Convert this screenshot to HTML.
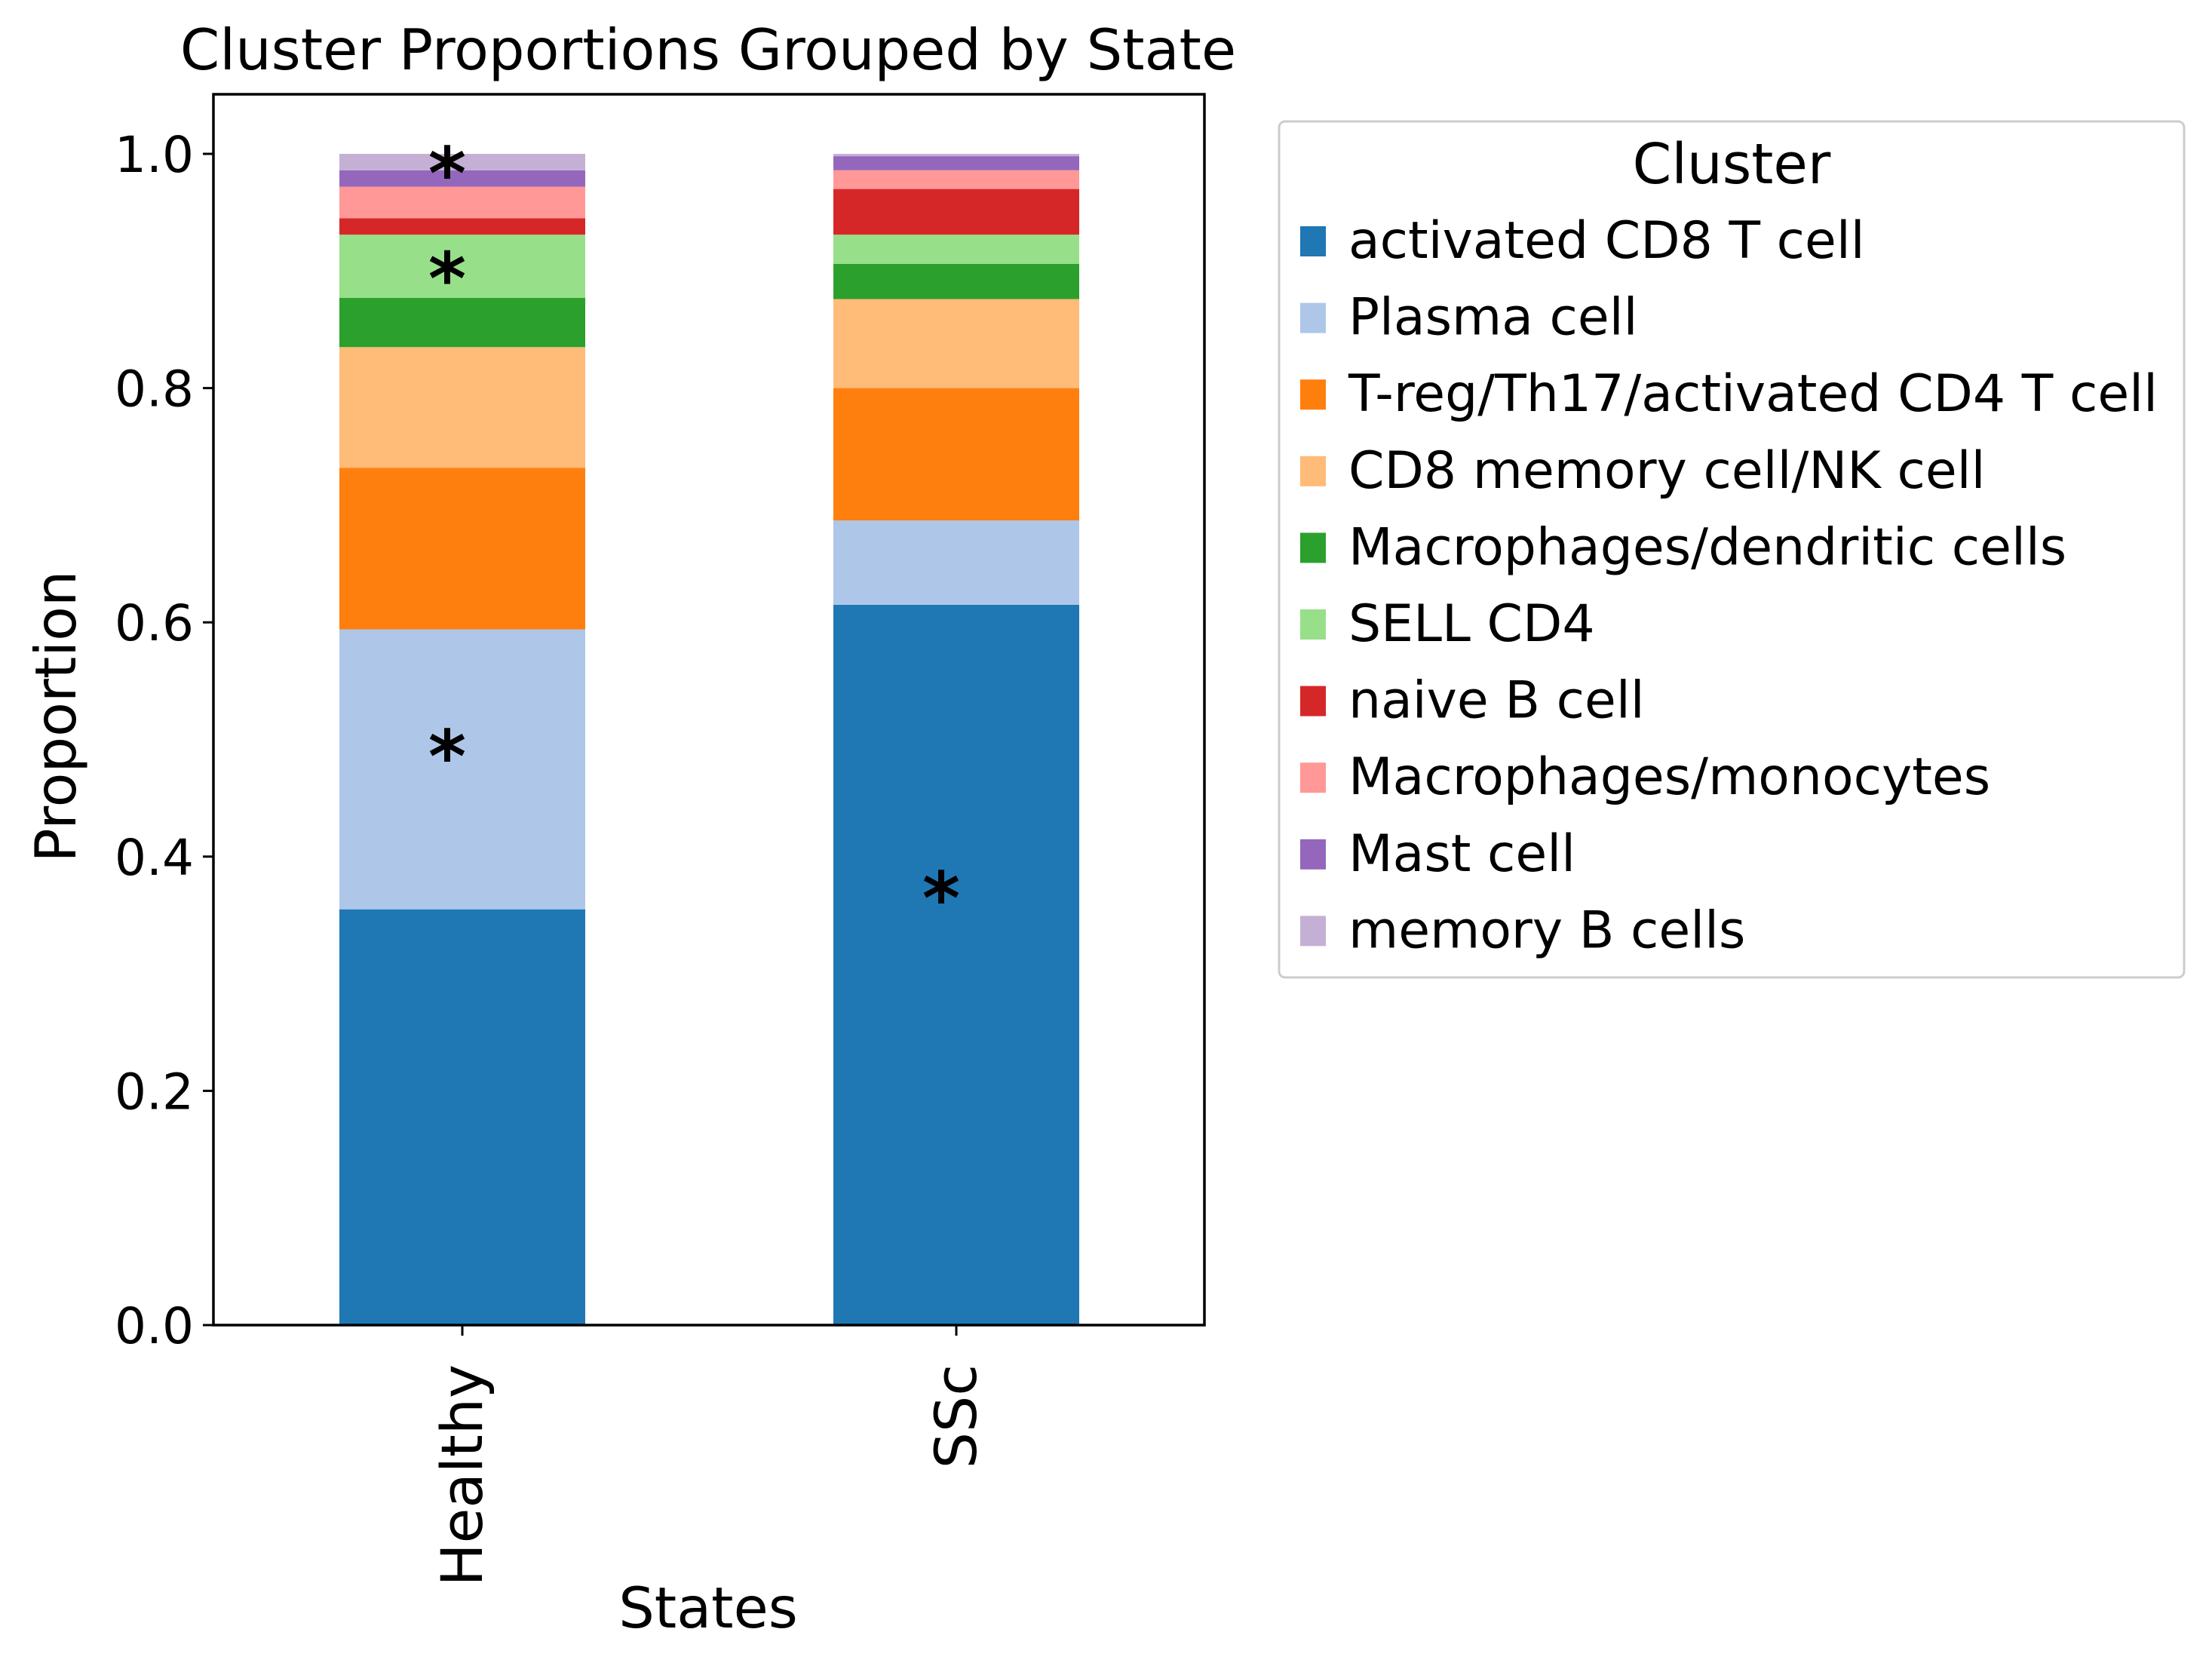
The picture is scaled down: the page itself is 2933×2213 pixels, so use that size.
<!DOCTYPE html>
<html><head><meta charset="utf-8"><style>
html,body{margin:0;padding:0;background:#fff;}
svg{display:block;font-family:"DejaVu Sans","Liberation Sans",sans-serif;}
</style></head><body>
<svg id="chart" width="2933" height="2213" viewBox="0 0 2933 2213" xmlns="http://www.w3.org/2000/svg">
<rect width="2933" height="2213" fill="#fff"/>
<text x="939" y="92" font-size="75" text-anchor="middle">Cluster Proportions Grouped by State</text>
<g id="bars"></g>
<g id="axes"></g>
<text transform="translate(100,950) rotate(-90)" font-size="75" text-anchor="middle">Proportion</text>
<text x="939" y="2158" font-size="75" text-anchor="middle">States</text>
<g id="legend"></g>
</svg>
<script>
const categories = ["Healthy", "SSc"];
const clusters = ["activated CD8 T cell","Plasma cell","T-reg/Th17/activated CD4 T cell","CD8 memory cell/NK cell","Macrophages/dendritic cells","SELL CD4","naive B cell","Macrophages/monocytes","Mast cell","memory B cells"];
const colors = ["#1f77b4","#aec7e8","#ff7f0e","#ffbb78","#2ca02c","#98df8a","#d62728","#ff9896","#9467bd","#c5b0d5"];
const healthyValues = [0.355,0.239,0.138,0.103,0.042,0.054,0.014,0.027,0.014,0.014];
const sscValues = [0.615,0.072,0.113,0.076,0.030,0.025,0.039,0.016,0.012,0.002];
const yTicks = [0.0,0.2,0.4,0.6,0.8,1.0];
const yTickLabels = ["0.0","0.2","0.4","0.6","0.8","1.0"];
const starCategory = [0,0,0,1];
const starValues = [0.995,0.905,0.497,0.376];

const NS = "http://www.w3.org/2000/svg";
const L = 283, R = 1597, T = 125, B = 1757;
const y0px = 1757, y1px = 204;
function yScale(v){ return y0px - v*(y0px-y1px); }
const barW = 326;
function xCenter(i){ return 613 + i*655; }
function mk(tag, attrs, parent){ const e=document.createElementNS(NS,tag); for(const k in attrs) e.setAttribute(k,attrs[k]); parent.appendChild(e); return e; }

const bars = document.getElementById('bars');
const series = [healthyValues, sscValues];
series.forEach((vals, ci) => {
  let cum = 0;
  vals.forEach((v, si) => {
    const r = mk('rect', {x: xCenter(ci)-barW/2, y: yScale(cum+v), width: barW, height: yScale(cum)-yScale(cum+v), fill: colors[si]}, bars);
    
    
    cum += v;
  });
});
starValues.forEach((v, i) => {
  const t = mk('text', {x: xCenter(starCategory[i]) - 20, y: yScale(v) + 52, 'font-size': 96, 'font-weight': 'bold', 'text-anchor': 'middle'}, bars);
  t.textContent = '*';
  
  
});

const axes = document.getElementById('axes');
const frame = mk('rect', {x: L, y: T, width: R-L, height: B-T, fill: 'none', stroke: '#000', 'stroke-width': 3.5}, axes);


yTicks.forEach((v, i) => {
  const y = yScale(v);
  const tk = mk('line', {x1: L-14, x2: L, y1: y, y2: y, stroke: '#000', 'stroke-width': 3}, axes);
  
  
  const lb = mk('text', {x: L-26, y: y+24, 'font-size': 66, 'text-anchor': 'end'}, axes);
  lb.textContent = yTickLabels[i];
  
  
});
categories.forEach((c, i) => {
  const x = xCenter(i);
  const tk = mk('line', {x1: x, x2: x, y1: B, y2: B+14, stroke: '#000', 'stroke-width': 3}, axes);
  
  
  const lb = mk('text', {transform: `translate(${x+26},${B+52}) rotate(-90)`, 'font-size': 76, 'text-anchor': 'end'}, axes);
  lb.textContent = c;
  
  
});

const legend = document.getElementById('legend');
const box = mk('rect', {x: 1696, y: 161, width: 1200, height: 1135, rx: 8, fill: '#fff', stroke: '#cccccc', 'stroke-width': 3}, legend);


const lt = mk('text', {x: 2296, y: 243, 'font-size': 74, 'text-anchor': 'middle'}, legend);
lt.textContent = 'Cluster';


clusters.forEach((c, i) => {
  const base = 342 + i*101.6;
  const g = mk('g', {}, legend);
  
  
  const p = mk('rect', {x: 1724, y: base-42, width: 34, height: 40, fill: colors[i]}, g);
  
  
  const t = mk('text', {x: 1788, y: base, 'font-size': 68}, g);
  t.textContent = c;
  
  
});
</script>
</body></html>
